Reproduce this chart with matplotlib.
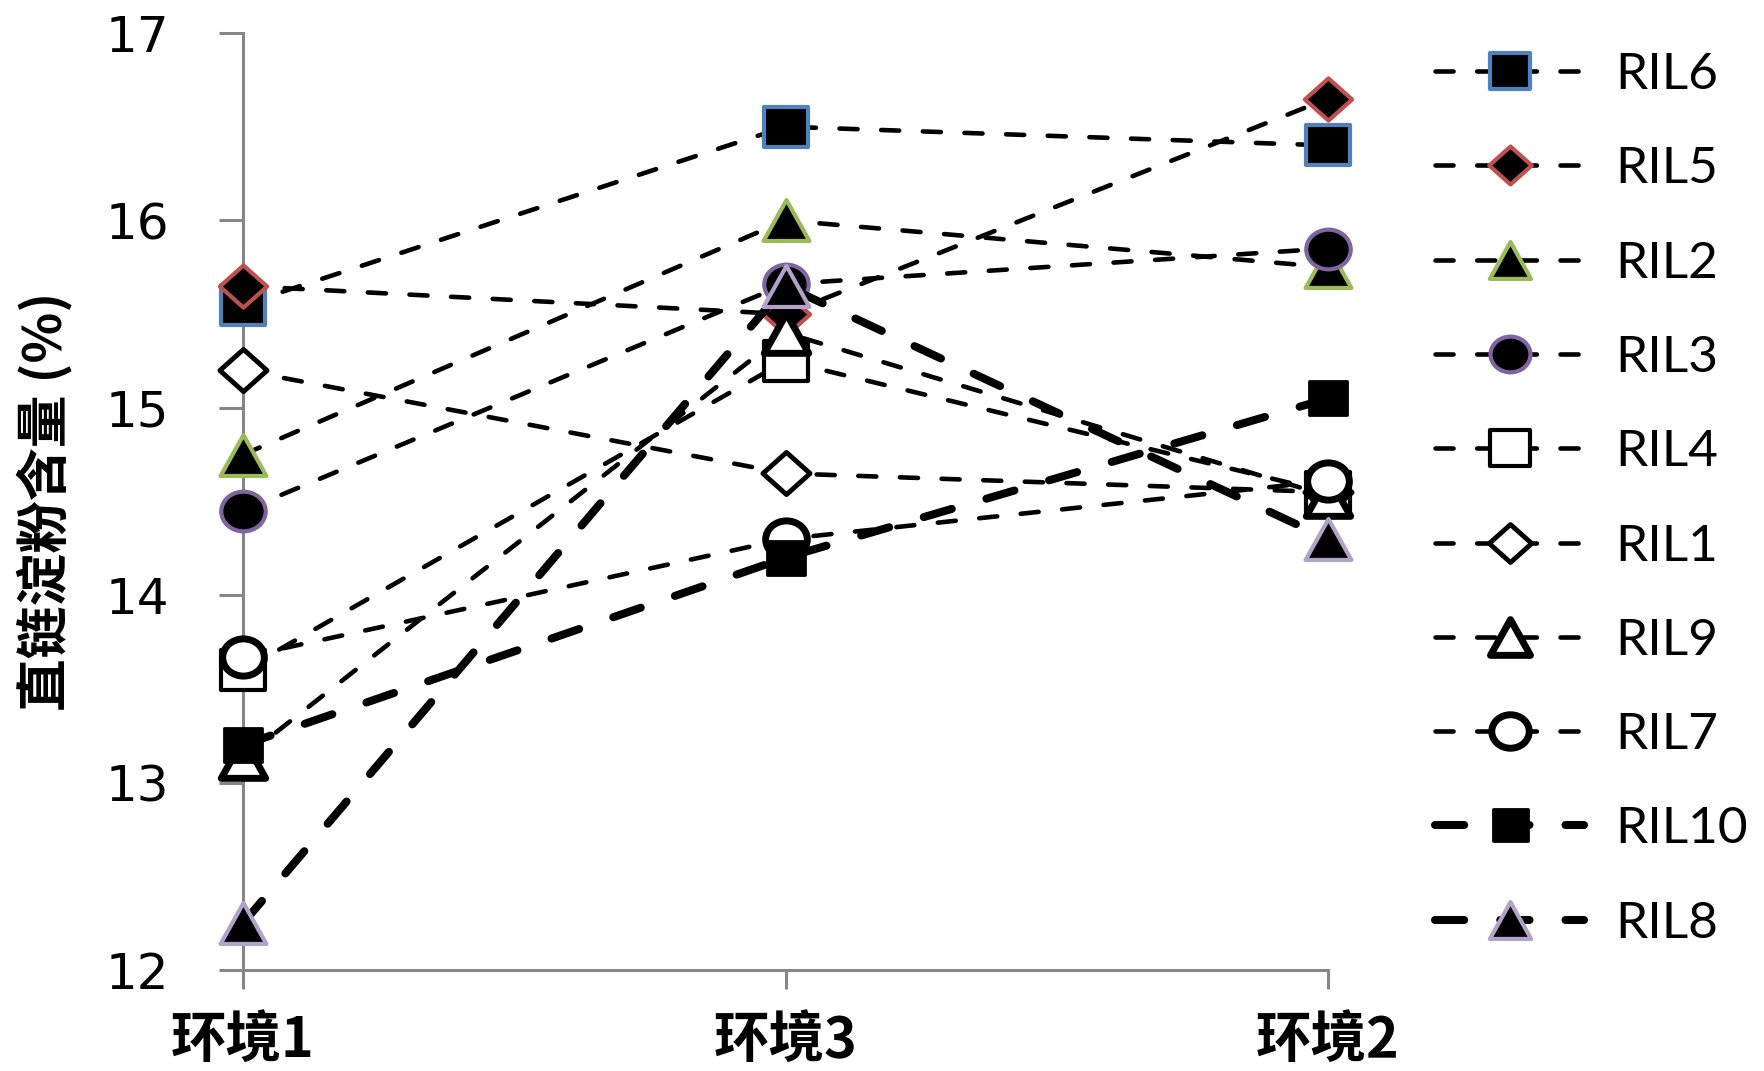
import matplotlib
matplotlib.use('Agg')
import matplotlib.pyplot as plt
from matplotlib.markers import MarkerStyle
from matplotlib.transforms import Affine2D

plt.rcParams['font.family'] = ['DejaVu Sans']
plt.rcParams['lines.scale_dashes'] = False

# environments in plotting order along the x axis
envs = ['环境1', '环境3', '环境2']

# amylose content (%) per line, one value per environment
ril6 = [15.55, 16.50, 16.40]
ril5 = [15.65, 15.50, 16.65]
ril2 = [14.75, 16.00, 15.75]
ril3 = [14.45, 15.66, 15.85]
ril4 = [13.60, 15.25, 14.55]
ril1 = [15.20, 14.65, 14.55]
ril9 = [13.13, 15.40, 14.53]
ril7 = [13.67, 14.30, 14.61]
ril10 = [13.20, 14.20, 15.05]
ril8 = [12.25, 15.65, 14.30]

names = ['RIL6', 'RIL5', 'RIL2', 'RIL3', 'RIL4', 'RIL1', 'RIL9', 'RIL7', 'RIL10', 'RIL8']
series = [ril6, ril5, ril2, ril3, ril4, ril1, ril9, ril7, ril10, ril8]


def wide(m, sx=1.12):
    # slightly wider-than-tall marker shapes
    ms = MarkerStyle(m)
    p = ms.get_path().transformed(ms.get_transform())
    return p.transformed(Affine2D().scale(sx, 1))


SQ, DM, TR, CI = wide('s'), wide('D'), wide('^'), wide('o')
thin = dict(lw=3.3, dashes=(13, 17))
thick = dict(lw=5.8, dashes=(21, 26))

styles = {
    'RIL6': dict(marker=SQ, mfc='black', mec='#4F81BD', mew=3, ms=32, **thin),
    'RIL5': dict(marker=DM, mfc='black', mec='#C0504D', mew=3, ms=34, **thin),
    'RIL2': dict(marker=TR, mfc='black', mec='#9BBB59', mew=3, ms=33, **thin),
    'RIL3': dict(marker=CI, mfc='black', mec='#8064A2', mew=3, ms=32, **thin),
    'RIL4': dict(marker=SQ, mfc='white', mec='black', mew=3, ms=32, **thin),
    'RIL1': dict(marker=DM, mfc='white', mec='black', mew=3.5, ms=34, **thin),
    'RIL9': dict(marker=TR, mfc='white', mec='black', mew=5, ms=32, **thin),
    'RIL7': dict(marker=CI, mfc='white', mec='black', mew=5, ms=30, **thin),
    'RIL10': dict(marker=SQ, mfc='black', mec='black', mew=2, ms=28, **thick),
    'RIL8': dict(marker=TR, mfc='black', mec='#B3A2C7', mew=3, ms=33, **thick),
}

fig = plt.figure(figsize=(17.65, 10.71), dpi=100)
ax = fig.add_axes([0.1377, 0.0943, 0.6147, 0.8749])

x = range(len(envs))
for i, (name, vals) in enumerate(zip(names, series)):
    ax.plot(x, vals, color='black', label=name, clip_on=False,
            solid_capstyle='round', dash_capstyle='round', zorder=3 + i,
            **styles[name])

ax.set_xlim(0, 2)
ax.set_ylim(12, 17)
ax.set_yticks(range(12, 18))
ax.set_xticks(list(x))
ax.set_xticklabels(envs, family=['Noto Sans CJK SC', 'DejaVu Sans'],
                   fontweight='bold', fontsize=40)
ax.tick_params(axis='y', labelsize=36, length=17, width=2.2,
               color='#868686', pad=36, direction='out')
ax.tick_params(axis='x', length=14, width=2.2, color='#868686', pad=17,
               direction='out')
for s in ['top', 'right']:
    ax.spines[s].set_visible(False)
for s in ['left', 'bottom']:
    ax.spines[s].set_color('#868686')
    ax.spines[s].set_linewidth(2.2)

ax.set_ylabel('直链淀粉含量 (%)', family=['Noto Sans CJK SC', 'DejaVu Sans'],
              fontweight='bold', fontsize=38)
ax.yaxis.set_label_coords(-0.157, 0.5)

ax.legend(loc='upper left', bbox_to_anchor=(1435 / 1765, 1 - 52 / 1071),
          bbox_transform=fig.transFigure, frameon=False, numpoints=1,
          prop=dict(family='Lato', size=37), markerscale=0.9,
          handlelength=2.9, handletextpad=0.6, labelspacing=0.94,
          borderpad=0, borderaxespad=0)

fig.savefig('out.png', dpi=100)
